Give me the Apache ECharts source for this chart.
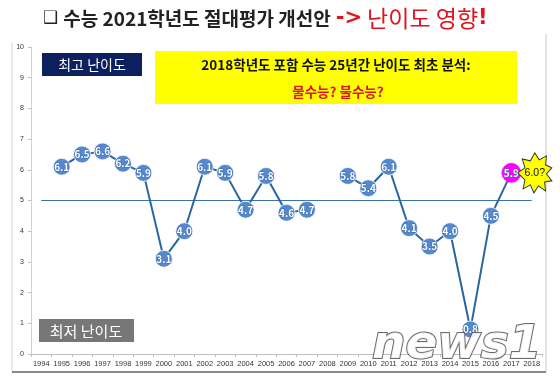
<!DOCTYPE html>
<html>
<head>
<meta charset="utf-8">
<script src="https://cdn.jsdelivr.net/npm/echarts@6/dist/echarts.min.js"></script>
<style>html,body{margin:0;padding:0;background:#fff}#c{width:560px;height:380px}</style>
</head>
<body>
<div id="c"></div>
<script>
const years = ['1994','1995','1996','1997','1998','1999','2000','2001','2002','2003','2004','2005','2006','2007','2008','2009','2010','2011','2012','2013','2014','2015','2016','2017','2018'];
const difficulty = [null, 6.1, 6.5, 6.6, 6.2, 5.9, 3.1, 4.0, 6.1, 5.9, 4.7, 5.8, 4.6, 4.7, null, 5.8, 5.4, 6.1, 4.1, 3.5, 4.0, 0.8, 4.5, 5.9, null];
const yTicks = [0, 1, 2, 3, 4, 5, 6, 7, 8, 9, 10];
const highlightYear = '2017';
const baseline = 5;
const calloutYear = '2018';
const calloutValue = 5.9;
const calloutText = '6.0?';

const FONT = "'Noto Sans CJK KR', 'Noto Sans', sans-serif";
const chart = echarts.init(document.getElementById('c'), null, {renderer: 'canvas'});

const seriesData = difficulty.map((v, i) => years[i] === highlightYear
  ? {value: v, symbolSize: 19, itemStyle: {color: '#FF00FF', borderColor: '#FF00FF'}}
  : v);

const starPath = 'path://M19 2 L24 9 L32 5 L31 14 L38 17 L32 23 L38 30 L30 31 L31 40 L23 35 L18 42 L14 34 L6 38 L8 29 L0 22 L8 17 L5 8 L14 10 Z';

chart.setOption({
  animation: false,
  backgroundColor: '#fff',
  title: {
    left: 38, top: 2,
    text: '{sq|❑} {b|수능 2021학년도 절대평가 개선안} {r|->} {rn|난이도 영향}{r|!}',
    textStyle: {
      rich: {
        sq: {fontFamily: 'DejaVu Sans', fontSize: 17, color: '#222'},
        b: {fontFamily: FONT, fontSize: 19, fontWeight: 'bold', color: '#222'},
        r: {fontFamily: 'DejaVu Sans', fontSize: 21, fontWeight: 'bold', color: '#E0141E'},
        rn: {fontFamily: FONT, fontSize: 23, fontWeight: 'normal', color: '#E0141E'}
      }
    }
  },
  grid: {left: 31, right: 18, top: 47, bottom: 26, containLabel: false},
  xAxis: {
    type: 'category',
    data: years,
    boundaryGap: true,
    axisLine: {lineStyle: {color: '#bfbfbf'}},
    axisTick: {show: true, length: 3, lineStyle: {color: '#bfbfbf'}},
    axisLabel: {interval: 0, fontSize: 7.5, color: '#333', margin: 6, fontFamily: 'Liberation Sans'}
  },
  yAxis: {
    type: 'value',
    min: yTicks[0], max: yTicks[yTicks.length - 1], interval: 1,
    splitLine: {show: false},
    axisLine: {show: true, lineStyle: {color: '#d0d0d0'}},
    axisTick: {show: true, length: 3, lineStyle: {color: '#bfbfbf'}},
    axisLabel: {fontSize: 7, color: '#333', margin: 7, fontFamily: 'Liberation Sans'}
  },
  series: [{
    type: 'line',
    data: seriesData,
    connectNulls: false,
    symbol: 'circle',
    symbolSize: 17,
    lineStyle: {color: '#2B65A0', width: 2},
    itemStyle: {color: '#5588CC', borderColor: '#ffffff', borderWidth: 0.8},
    label: {
      show: true, position: 'inside',
      formatter: p => p.value == null ? '' : Number(p.value).toFixed(1),
      color: '#fff', fontSize: 10, fontWeight: 'bold', fontFamily: FONT,
      textBorderColor: '#3A6DB0', textBorderWidth: 1
    },
    z: 3,
    markLine: {
      silent: true, symbol: 'none', label: {show: false},
      lineStyle: {color: '#3F72A6', width: 1, type: 'solid'},
      data: [[{coord: [years[0], baseline]}, {coord: [years[years.length - 1], baseline]}]],
      z: 1
    },
    markPoint: {
      symbol: starPath,
      symbolSize: [34, 40],
      symbolOffset: [3, 0],
      itemStyle: {color: '#FFFF00', borderColor: '#333', borderWidth: 1},
      label: {show: true, formatter: '{c}', color: '#111', fontSize: 10.5, fontFamily: 'Liberation Sans'},
      data: [{coord: [calloutYear, calloutValue], value: calloutText}]
    }
  }],
  graphic: [
    {type: 'line', shape: {x1: 12, y1: 42, x2: 12, y2: 372}, style: {stroke: '#d6d6d6', lineWidth: 1}},
    {type: 'line', shape: {x1: 546, y1: 34, x2: 546, y2: 372}, style: {stroke: '#c8c8c8', lineWidth: 1}},
    {type: 'line', shape: {x1: 12, y1: 372, x2: 546, y2: 372}, style: {stroke: '#8a8a8a', lineWidth: 2}},
    {type: 'rect', shape: {x: 42, y: 53, width: 100, height: 23}, style: {fill: '#0C1F5E'}, z: 5},
    {type: 'text', x: 92, y: 65, style: {text: '최고 난이도', fill: '#fff', font: '14px ' + FONT, textAlign: 'center', textVerticalAlign: 'middle'}, z: 6},
    {type: 'rect', shape: {x: 39, y: 319, width: 95, height: 23}, style: {fill: '#777777'}, z: 5},
    {type: 'text', x: 86, y: 331, style: {text: '최저 난이도', fill: '#fff', font: '15px ' + FONT, textAlign: 'center', textVerticalAlign: 'middle'}, z: 6},
    {type: 'rect', shape: {x: 155, y: 51, width: 362, height: 53}, style: {fill: '#FFFF00'}, z: 5},
    {type: 'text', x: 336, y: 65, style: {text: '2018학년도 포함 수능 25년간 난이도 최초 분석:', fill: '#111', font: 'bold 13.5px ' + FONT, textAlign: 'center', textVerticalAlign: 'middle'}, z: 6},
    {type: 'text', x: 338, y: 92, style: {text: '물수능? 불수능?', fill: '#E0141E', font: 'bold 13.5px ' + FONT, textAlign: 'center', textVerticalAlign: 'middle'}, z: 6},
    {type: 'text', x: 372, y: 346, style: {text: 'news1', fill: '#ffffff', stroke: '#5a5a5a', lineWidth: 2, font: 'italic bold 47px "DejaVu Sans"', textAlign: 'left', textVerticalAlign: 'middle', shadowColor: 'rgba(0,0,0,0.35)', shadowOffsetX: 2, shadowOffsetY: 2, shadowBlur: 2, opacity: 0.9}, z: 20}
  ]
});
</script>
</body>
</html>
